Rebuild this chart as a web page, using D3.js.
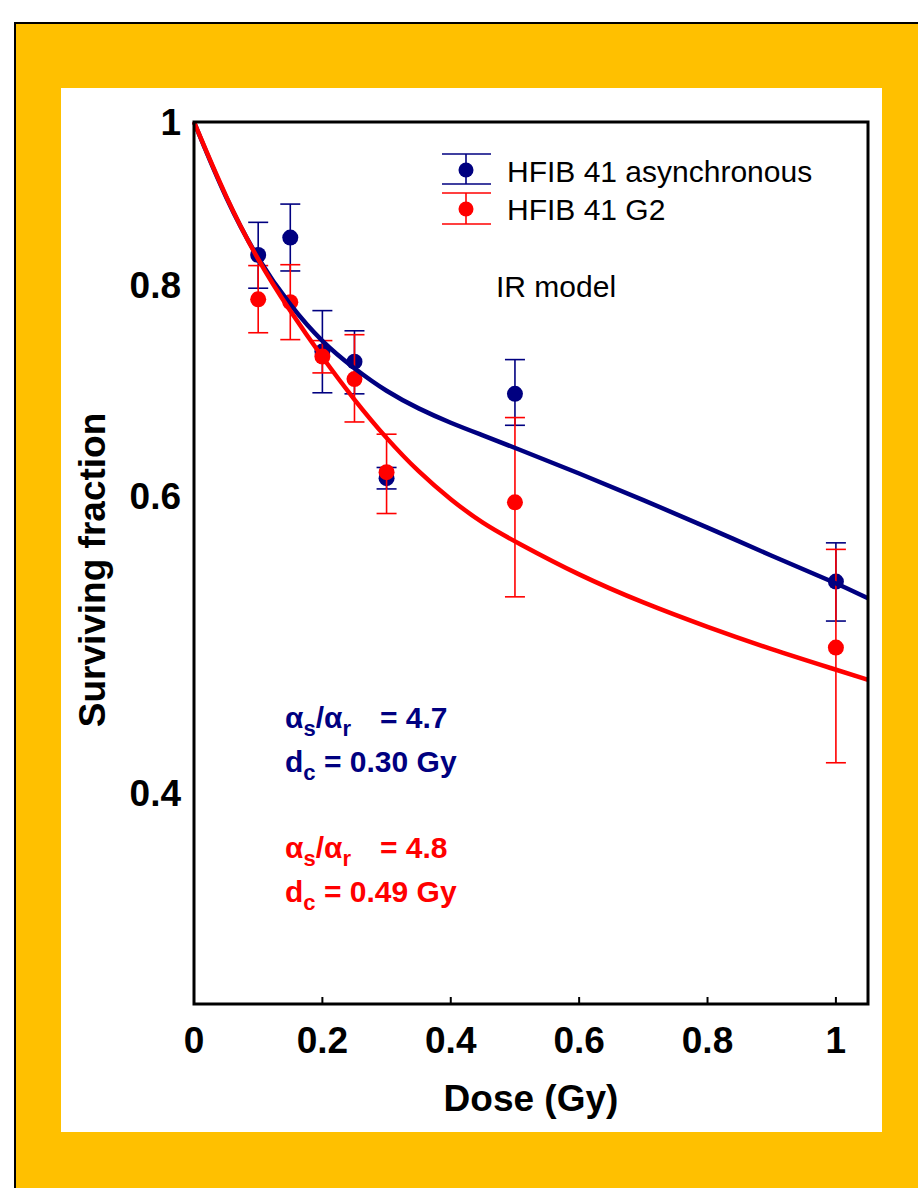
<!DOCTYPE html>
<html>
<head>
<meta charset="utf-8">
<script src="https://cdn.jsdelivr.net/npm/d3@7.9.0/dist/d3.min.js"></script>
<style>
  html, body { margin: 0; padding: 0; background: #fff; }
  svg { display: block; font-family: "Liberation Sans", Arial, sans-serif; }
</style>
</head>
<body>
<svg id="chart" width="918" height="1188"></svg>
<script>
// measured points: dose (Gy), surviving fraction, error bar low / high
const doses = [0.1, 0.15, 0.2, 0.25, 0.3, 0.5, 1.0];
const asyncSF   = [0.834, 0.854, 0.731, 0.721, 0.615, 0.690, 0.534];
const asyncLow  = [0.797, 0.816, 0.691, 0.690, 0.606, 0.661, 0.506];
const asyncHigh = [0.872, 0.894, 0.773, 0.752, 0.624, 0.723, 0.563];
const g2SF   = [0.785, 0.782, 0.726, 0.704, 0.620, 0.595, 0.488];
const g2Low  = [0.750, 0.743, 0.710, 0.664, 0.586, 0.523, 0.417];
const g2High = [0.822, 0.823, 0.742, 0.748, 0.653, 0.668, 0.558];

// IR model fitted curves
const curveDose  = [0, 0.05, 0.1, 0.15, 0.2, 0.25, 0.3, 0.35, 0.4, 0.45, 0.5, 0.6, 0.7, 0.8, 0.9, 1.0, 1.05];
const asyncCurve = [1, 0.899, 0.828, 0.778, 0.740, 0.714, 0.692, 0.676, 0.663, 0.652, 0.641, 0.619, 0.597, 0.575, 0.553, 0.533, 0.522];
const g2Curve    = [1, 0.901, 0.827, 0.772, 0.725, 0.684, 0.649, 0.620, 0.597, 0.578, 0.564, 0.5385, 0.5186, 0.5018, 0.4867, 0.4735, 0.467];

const xTicks = [0, 0.2, 0.4, 0.6, 0.8, 1];
const yTicks = [0.4, 0.6, 0.8, 1];

const NAVY = "#000080", RED = "#ff0000";

const svg = d3.select("#chart");

// frame: yellow border + white panel
svg.append("rect").attr("x", 15).attr("y", 23).attr("width", 920).attr("height", 1200)
   .attr("fill", "#ffc000").attr("stroke", "#000").attr("stroke-width", 2);
svg.append("rect").attr("x", 61).attr("y", 88).attr("width", 821).attr("height", 1044)
   .attr("fill", "#fff");

const x = d3.scaleLinear().domain([0, 1.05]).range([194, 868]);
const y = d3.scaleLog().domain([0.3, 1]).range([1004, 122]);

// series
function drawSeries(sf, low, high, color) {
  const g = svg.append("g");
  doses.forEach((d, i) => {
    const cx = x(d);
    g.append("line").attr("x1", cx).attr("x2", cx)
     .attr("y1", y(low[i])).attr("y2", y(high[i]))
     .attr("stroke", color).attr("stroke-width", 1.6);
    [low[i], high[i]].forEach(v => {
      g.append("line").attr("x1", cx - 10).attr("x2", cx + 10)
       .attr("y1", y(v)).attr("y2", y(v))
       .attr("stroke", color).attr("stroke-width", 1.6);
    });
    g.append("circle").attr("cx", cx).attr("cy", y(sf[i])).attr("r", 8).attr("fill", color);
  });
}
drawSeries(asyncSF, asyncLow, asyncHigh, NAVY);
drawSeries(g2SF, g2Low, g2High, RED);

const line = d3.line().x(d => x(d[0])).y(d => y(d[1])).curve(d3.curveBasis);
svg.append("path").attr("d", line(curveDose.map((d, i) => [d, asyncCurve[i]])))
   .attr("fill", "none").attr("stroke", NAVY).attr("stroke-width", 4.5);
svg.append("path").attr("d", line(curveDose.map((d, i) => [d, g2Curve[i]])))
   .attr("fill", "none").attr("stroke", RED).attr("stroke-width", 4.5);

// axes box
svg.append("rect").attr("x", 194).attr("y", 122).attr("width", 674).attr("height", 882)
   .attr("fill", "none").attr("stroke", "#000").attr("stroke-width", 3);

// x ticks (inward) + labels
xTicks.forEach(t => {
  if (t > 0) {
    svg.append("line").attr("x1", x(t)).attr("x2", x(t)).attr("y1", 1004).attr("y2", 997)
       .attr("stroke", "#000").attr("stroke-width", 2);
  }
  svg.append("text").attr("x", x(t)).attr("y", 1053).attr("text-anchor", "middle")
     .attr("font-size", 37).attr("font-weight", "bold").text(d3.format("~g")(t));
});

yTicks.forEach(t => {
  svg.append("text").attr("x", 181).attr("y", y(t) + 13).attr("text-anchor", "end")
     .attr("font-size", 37).attr("font-weight", "bold").text(d3.format("~g")(t));
});

svg.append("text").attr("x", 531).attr("y", 1111).attr("text-anchor", "middle")
   .attr("font-size", 37).attr("font-weight", "bold").text("Dose (Gy)");
svg.append("text").attr("transform", "translate(105,570) rotate(-90)").attr("text-anchor", "middle")
   .attr("font-size", 37).attr("font-weight", "bold").text("Surviving fraction");

// legend
const legend = [
  { label: "HFIB 41 asynchronous", color: NAVY, top: 154, bottom: 184, dot: 170, text: 182 },
  { label: "HFIB 41 G2", color: RED, top: 193, bottom: 224, dot: 209, text: 220 }
];
legend.forEach(l => {
  svg.append("line").attr("x1", 466).attr("x2", 466).attr("y1", l.top).attr("y2", l.bottom)
     .attr("stroke", l.color).attr("stroke-width", 1.6);
  [l.top, l.bottom].forEach(v => {
    svg.append("line").attr("x1", 442).attr("x2", 491).attr("y1", v).attr("y2", v)
       .attr("stroke", l.color).attr("stroke-width", 1.6);
  });
  svg.append("circle").attr("cx", 466).attr("cy", l.dot).attr("r", 7.5).attr("fill", l.color);
  svg.append("text").attr("x", 507).attr("y", l.text).attr("font-size", 30).text(l.label);
});
svg.append("text").attr("x", 496).attr("y", 297).attr("font-size", 30).text("IR model");

// fit parameters
function params(color, y1, ratio, dc) {
  const t1 = svg.append("text").attr("x", 285).attr("y", y1).attr("fill", color)
     .attr("font-size", 30).attr("font-weight", "bold");
  t1.append("tspan").text("α");
  t1.append("tspan").attr("font-size", 22).attr("dy", 8).text("s");
  t1.append("tspan").attr("dy", -8).text("/α");
  t1.append("tspan").attr("font-size", 22).attr("dy", 8).text("r");
  t1.append("tspan").attr("x", 380).attr("dy", -8).text("= " + ratio);
  const t2 = svg.append("text").attr("x", 285).attr("y", y1 + 44).attr("fill", color)
     .attr("font-size", 30).attr("font-weight", "bold");
  t2.append("tspan").text("d");
  t2.append("tspan").attr("font-size", 22).attr("dy", 8).text("c");
  t2.append("tspan").attr("x", 324).attr("dy", -8).text("= " + dc + " Gy");
}
params(NAVY, 728, "4.7", "0.30");
params(RED, 858, "4.8", "0.49");
</script>
</body>
</html>
